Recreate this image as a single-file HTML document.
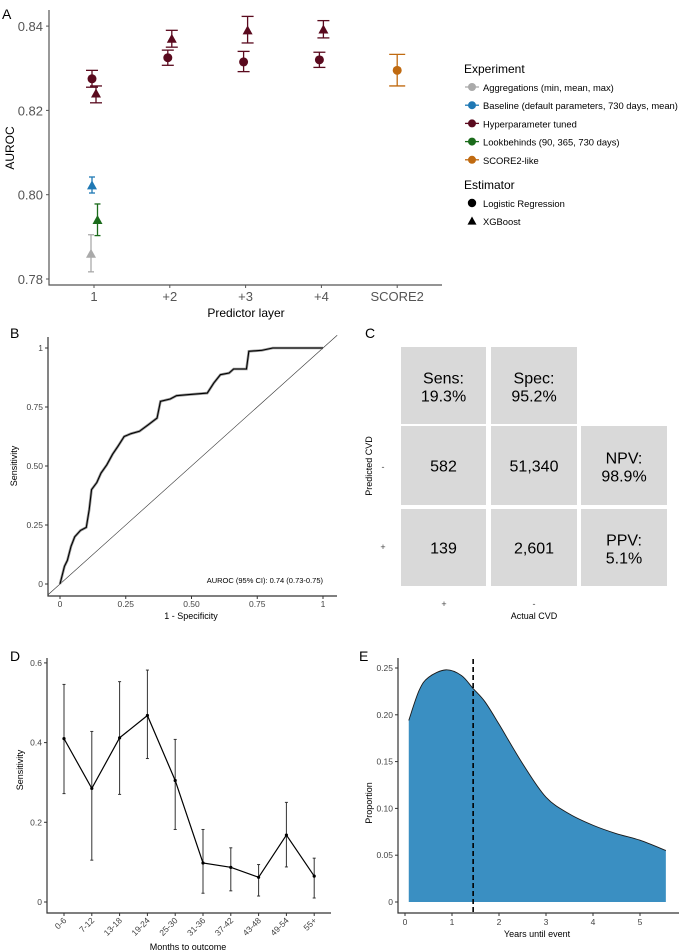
<!DOCTYPE html>
<html><head><meta charset="utf-8"><style>
body{margin:0;background:#fff}
svg{display:block;font-family:"Liberation Sans",sans-serif}
</style></head><body>
<svg id="fig" width="685" height="951" viewBox="0 0 685 951">
<g id="pA"></g>
<g id="pB"></g>
<g id="pC"></g>
<g id="pD"></g>
<g id="pE"></g>
</svg>
<script>
// ---------- Panel A data ----------
const aCats = ["1","+2","+3","+4","SCORE2"];
const aTicks = [0.78,0.80,0.82,0.84];
const aExperiments = ["Aggregations (min, mean, max)","Baseline (default parameters, 730 days, mean)","Hyperparameter tuned","Lookbehinds (90, 365, 730 days)","SCORE2-like"];
const aColors = ["#aaaaaa","#1f78b4","#5a0a1e","#1b6b1b","#c06a10"];
const aCatIdx = [0,0,0,0,0,1,1,2,2,3,3,4];
const aExpIdx = [0,1,3,2,2,2,2,2,2,2,2,4];
const aEstIdx = [1,1,1,0,1,1,0,1,0,1,0,0];
const aEst = [0.786,0.8022,0.794,0.8275,0.824,0.837,0.8325,0.839,0.8315,0.8392,0.832,0.8295];
const aLo = [0.7817,0.8004,0.7903,0.8255,0.8218,0.835,0.8307,0.836,0.8292,0.8372,0.8302,0.8258];
const aHi = [0.7905,0.8042,0.7978,0.8295,0.8258,0.839,0.8343,0.8423,0.834,0.8413,0.8338,0.8333];
// ---------- Panel B data ----------
const rocX = [0,0.017,0.028,0.042,0.056,0.078,0.1,0.111,0.12,0.14,0.156,0.178,0.2,0.22,0.244,0.27,0.302,0.336,0.369,0.382,0.419,0.443,0.485,0.56,0.585,0.61,0.643,0.66,0.709,0.718,0.767,0.809,1];
const rocY = [0,0.075,0.10,0.16,0.20,0.227,0.24,0.315,0.40,0.43,0.47,0.505,0.55,0.583,0.625,0.637,0.647,0.675,0.703,0.774,0.784,0.798,0.802,0.809,0.852,0.887,0.894,0.911,0.911,0.986,0.99,1,1];
const bTicks = [0,0.25,0.5,0.75,1];
const bTickLabels = ["0","0.25","0.50","0.75","1"];
// ---------- Panel C data ----------
const cCells = [["Sens:","19.3%"],["Spec:","95.2%"],null,["582"],["51,340"],["NPV:","98.9%"],["139"],["2,601"],["PPV:","5.1%"]];
// ---------- Panel D data ----------
const dCats = ["0-6","7-12","13-18","19-24","25-30","31-36","37-42","43-48","49-54","55+"];
const dVal = [0.41,0.285,0.412,0.468,0.305,0.098,0.087,0.062,0.168,0.065];
const dLo = [0.272,0.105,0.27,0.36,0.182,0.022,0.028,0.015,0.088,0.01];
const dHi = [0.546,0.428,0.553,0.582,0.408,0.182,0.136,0.094,0.25,0.11];
const dTicks = [0,0.2,0.4,0.6];
// ---------- Panel E data ----------
const eYears = [0.08,0.3,0.5,0.87,1.2,1.45,1.7,2.0,2.5,3.0,3.5,4.0,4.5,5.0,5.55];
const eDens = [0.194,0.226,0.24,0.248,0.242,0.228,0.214,0.19,0.148,0.112,0.094,0.082,0.073,0.066,0.055];
const eMedian = 1.45;
const eXTicks = [0,1,2,3,4,5];
const eYTicks = [0,0.05,0.10,0.15,0.20,0.25];
const eYTickLabels = ["0","0.05","0.10","0.15","0.20","0.25"];

const NS="http://www.w3.org/2000/svg";
function mk(parent,tag,attrs,text){const e=document.createElementNS(NS,tag);for(const k in attrs)e.setAttribute(k,attrs[k]);if(text!==undefined)e.textContent=text;parent.appendChild(e);return e;}
function tri(cx,cy,s){return `${cx},${cy-s} ${cx-s},${cy+s*0.8} ${cx+s},${cy+s*0.8}`;}

// ===== Panel A =====
(function(){
const g=document.getElementById('pA');
const xA=i=>94+i*75.8, yA=v=>279-(v-0.78)/0.02*84.3;
let t=mk(g,'text',{x:2,y:19,'font-size':14,fill:'#000'},'A');

let ax=mk(g,'path',{d:'M49,10 V285 H442',stroke:'#555',fill:'none','stroke-width':1.2});

aTicks.forEach(v=>{
 mk(g,'line',{x1:46,x2:49,y1:yA(v),y2:yA(v),stroke:'#555'});
 let l=mk(g,'text',{x:43,y:yA(v)+5,'font-size':13,fill:'#555','text-anchor':'end'},v.toFixed(2));
 
});
aCats.forEach((c,i)=>{
 mk(g,'line',{x1:xA(i),x2:xA(i),y1:285,y2:288,stroke:'#555'});
 let l=mk(g,'text',{x:xA(i),y:301,'font-size':13,fill:'#555','text-anchor':'middle'},c);
 
});
let xt=mk(g,'text',{x:246,y:317,'font-size':12,fill:'#000','text-anchor':'middle'},'Predictor layer');

let yt=mk(g,'text',{x:0,y:0,'font-size':12,fill:'#000','text-anchor':'middle',transform:'translate(14,148) rotate(-90)'},'AUROC');

aEst.forEach((v,k)=>{
 let off=aEstIdx[k]===0?-2:2;
 if(aExpIdx[k]===0)off=-3; if(aExpIdx[k]===1)off=-2; if(aExpIdx[k]===3)off=3.5; if(aExpIdx[k]===4)off=0;
 const cx=xA(aCatIdx[k])+off, col=aColors[aExpIdx[k]];
 const gp=mk(g,'g',{});
 
 
 const w=aExpIdx[k]===4?8:(aExpIdx[k]===2?6:3);
 mk(gp,'line',{x1:cx,x2:cx,y1:yA(aLo[k]),y2:yA(aHi[k]),stroke:col,'stroke-width':1.3});
 mk(gp,'line',{x1:cx-w,x2:cx+w,y1:yA(aLo[k]),y2:yA(aLo[k]),stroke:col,'stroke-width':1.3});
 mk(gp,'line',{x1:cx-w,x2:cx+w,y1:yA(aHi[k]),y2:yA(aHi[k]),stroke:col,'stroke-width':1.3});
 if(aEstIdx[k]===0) mk(gp,'circle',{cx:cx,cy:yA(v),r:4.5,fill:col});
 else mk(gp,'polygon',{points:tri(cx,yA(v),5),fill:col});
});
let lt=mk(g,'text',{x:464,y:73,'font-size':12,fill:'#000'},'Experiment');

aExperiments.forEach((e,i)=>{
 const y=87+i*18.2;
 const gg=mk(g,'g',{});
 
 mk(gg,'line',{x1:465,x2:479,y1:y,y2:y,stroke:aColors[i],'stroke-width':1.3});
 mk(gg,'circle',{cx:472,cy:y,r:4,fill:aColors[i]});
 mk(gg,'text',{x:483,y:y+4,'font-size':9.4,fill:'#000'},e);
});
let lt2=mk(g,'text',{x:464,y:189,'font-size':12,fill:'#000'},'Estimator');

let g1=mk(g,'g',{});
mk(g1,'circle',{cx:472,cy:203,r:4.2,fill:'#000'});mk(g1,'text',{x:483,y:207,'font-size':9.4},'Logistic Regression');
let g2=mk(g,'g',{});
mk(g2,'polygon',{points:tri(472,221,4.5),fill:'#000'});mk(g2,'text',{x:483,y:225,'font-size':9.4},'XGBoost');
})();

// ===== Panel B =====
(function(){
const g=document.getElementById('pB');
const xB=v=>60+v*263, yB=v=>584-v*236;
let t=mk(g,'text',{x:10,y:338,'font-size':14},'B');

mk(g,'path',{d:'M48,337 V596 H337',stroke:'#333',fill:'none','stroke-width':1.2});
let d=mk(g,'line',{x1:xB(-0.046),y1:yB(-0.046),x2:xB(1.054),y2:yB(1.054),stroke:'#333','stroke-width':0.6});

bTicks.forEach((v,i)=>{
 mk(g,'line',{x1:45,x2:48,y1:yB(v),y2:yB(v),stroke:'#333'});
 mk(g,'text',{x:43,y:yB(v)+3,'font-size':8.5,fill:'#444','text-anchor':'end'},bTickLabels[i]);
 mk(g,'line',{x1:xB(v),x2:xB(v),y1:596,y2:599,stroke:'#333'});
 mk(g,'text',{x:xB(v),y:607,'font-size':8.5,fill:'#444','text-anchor':'middle'},bTickLabels[i]);
});
let pts=rocX.map((x,i)=>xB(x)+','+yB(rocY[i])).join(' ');
mk(g,'polyline',{points:pts,fill:'none',stroke:'#999','stroke-width':2.6});
let r=mk(g,'polyline',{points:pts,fill:'none',stroke:'#000','stroke-width':1.1});

mk(g,'text',{x:323,y:583,'font-size':7.5,'text-anchor':'end'},'AUROC (95% CI): 0.74 (0.73-0.75)');
mk(g,'text',{x:191,y:619,'font-size':9,'text-anchor':'middle'},'1 - Specificity');
mk(g,'text',{x:0,y:0,'font-size':9,'text-anchor':'middle',transform:'translate(17,466) rotate(-90)'},'Sensitivity');
})();

// ===== Panel C =====
(function(){
const g=document.getElementById('pC');
let t=mk(g,'text',{x:365,y:338,'font-size':14},'C');

const cols=[[401,486],[491,577],[581,667]], rows=[[347,424],[426,505],[509,586]];
cCells.forEach((c,i)=>{
 if(!c)return;
 const col=cols[i%3],row=rows[Math.floor(i/3)];
 const gg=mk(g,'g',{});
 
 mk(gg,'rect',{x:col[0],y:row[0],width:col[1]-col[0],height:row[1]-row[0],fill:'#d9d9d9'});
 const cx=(col[0]+col[1])/2, cy=(row[0]+row[1])/2;
 if(c.length===1) mk(gg,'text',{x:cx,y:cy+6,'font-size':16,'text-anchor':'middle'},c[0]);
 else{mk(gg,'text',{x:cx,y:cy-2,'font-size':16,'text-anchor':'middle'},c[0]);mk(gg,'text',{x:cx,y:cy+16,'font-size':16,'text-anchor':'middle'},c[1]);}
});
mk(g,'text',{x:383,y:470,'font-size':9,fill:'#444','text-anchor':'middle'},'-');
mk(g,'text',{x:383,y:550,'font-size':9,fill:'#444','text-anchor':'middle'},'+');
mk(g,'text',{x:444,y:607,'font-size':9,fill:'#444','text-anchor':'middle'},'+');
mk(g,'text',{x:534,y:607,'font-size':9,fill:'#444','text-anchor':'middle'},'-');
mk(g,'text',{x:534,y:619,'font-size':9,'text-anchor':'middle'},'Actual CVD');
mk(g,'text',{x:0,y:0,'font-size':9,'text-anchor':'middle',transform:'translate(372,466) rotate(-90)'},'Predicted CVD');
})();

// ===== Panel D =====
(function(){
const g=document.getElementById('pD');
const xD=i=>64+i*27.8, yD=v=>902-v/0.2*79.7;
let t=mk(g,'text',{x:10,y:661,'font-size':14},'D');

mk(g,'path',{d:'M47,658 V913 H331',stroke:'#333',fill:'none','stroke-width':1.2});
dTicks.forEach(v=>{
 mk(g,'line',{x1:44,x2:47,y1:yD(v),y2:yD(v),stroke:'#333'});
 mk(g,'text',{x:42,y:yD(v)+3,'font-size':8.5,fill:'#444','text-anchor':'end'},v===0?'0':v.toFixed(1));
});
dCats.forEach((c,i)=>{
 mk(g,'line',{x1:xD(i),x2:xD(i),y1:913,y2:916,stroke:'#333'});
 mk(g,'text',{x:0,y:0,'font-size':8.5,fill:'#444','text-anchor':'end',transform:`translate(${xD(i)+3},${921}) rotate(-45)`},c);
 const gg=mk(g,'g',{});
 
 mk(gg,'line',{x1:xD(i),x2:xD(i),y1:yD(dLo[i]),y2:yD(dHi[i]),stroke:'#333','stroke-width':1});
 mk(gg,'line',{x1:xD(i)-1.5,x2:xD(i)+1.5,y1:yD(dLo[i]),y2:yD(dLo[i]),stroke:'#333'});
 mk(gg,'line',{x1:xD(i)-1.5,x2:xD(i)+1.5,y1:yD(dHi[i]),y2:yD(dHi[i]),stroke:'#333'});
 mk(gg,'circle',{cx:xD(i),cy:yD(dVal[i]),r:1.6,fill:'#000'});
});
let l=mk(g,'polyline',{points:dVal.map((v,i)=>xD(i)+','+yD(v)).join(' '),fill:'none',stroke:'#000','stroke-width':1.2});

mk(g,'text',{x:188,y:950,'font-size':9,'text-anchor':'middle'},'Months to outcome');
mk(g,'text',{x:0,y:0,'font-size':9,'text-anchor':'middle',transform:'translate(23,770) rotate(-90)'},'Sensitivity');
})();

// ===== Panel E =====
(function(){
const g=document.getElementById('pE');
const xE=v=>405+v*47, yE=v=>902-v/0.05*46.8;
let t=mk(g,'text',{x:359,y:661,'font-size':14},'E');

mk(g,'path',{d:'M398,658 V913 H679',stroke:'#333',fill:'none','stroke-width':1.2});
eYTicks.forEach((v,i)=>{
 mk(g,'line',{x1:395,x2:398,y1:yE(v),y2:yE(v),stroke:'#333'});
 mk(g,'text',{x:393,y:yE(v)+3,'font-size':8.5,fill:'#444','text-anchor':'end'},eYTickLabels[i]);
});
eXTicks.forEach(v=>{
 mk(g,'line',{x1:xE(v),x2:xE(v),y1:913,y2:916,stroke:'#333'});
 mk(g,'text',{x:xE(v),y:925,'font-size':8.5,fill:'#444','text-anchor':'middle'},String(v));
});
const P=eYears.map((x,i)=>[xE(x),yE(eDens[i])]);
let dp=`M${P[0][0]},${yE(0)} L${P[0][0]},${P[0][1]}`;
for(let i=0;i<P.length-1;i++){
 const p0=P[Math.max(0,i-1)],p1=P[i],p2=P[i+1],p3=P[Math.min(P.length-1,i+2)];
 const c1=[p1[0]+(p2[0]-p0[0])/6,p1[1]+(p2[1]-p0[1])/6], c2=[p2[0]-(p3[0]-p1[0])/6,p2[1]-(p3[1]-p1[1])/6];
 dp+=` C${c1[0]},${c1[1]} ${c2[0]},${c2[1]} ${p2[0]},${p2[1]}`;
}
const top=dp;
mk(g,'path',{d:dp+` L${P[P.length-1][0]},${yE(0)} Z`,fill:'#3a8fc2',stroke:'none'});
mk(g,'path',{d:top.replace(/^M[^L]*L/,'M'),fill:'none',stroke:'#1a1a1a','stroke-width':0.9});
let m=mk(g,'line',{x1:xE(eMedian),x2:xE(eMedian),y1:659,y2:913,stroke:'#000','stroke-width':1.6,'stroke-dasharray':'5,3'});

mk(g,'text',{x:537,y:937,'font-size':9,'text-anchor':'middle'},'Years until event');
mk(g,'text',{x:0,y:0,'font-size':9,'text-anchor':'middle',transform:'translate(372,803) rotate(-90)'},'Proportion');
})();
</script>
</body></html>
